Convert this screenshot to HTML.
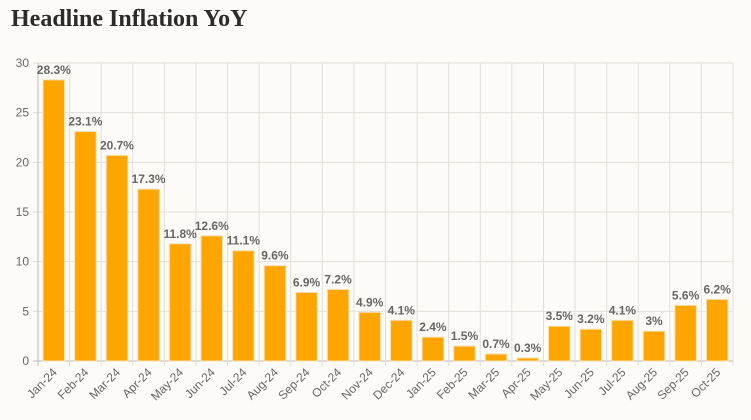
<!DOCTYPE html>
<html><head><meta charset="utf-8"><style>
body{margin:0;width:751px;height:420px;background:#fdfbf7;overflow:hidden;font-family:"Liberation Sans",sans-serif}
h1{position:absolute;left:11px;top:6px;margin:0;font-family:"Liberation Serif",serif;font-size:24px;font-weight:bold;color:#2b2b2b}
svg{position:absolute;left:0;top:0}
</style></head><body>
<h1>Headline Inflation YoY</h1>
<svg width="751" height="420" id="c"></svg>
<script>
const categories=["Jan-24","Feb-24","Mar-24","Apr-24","May-24","Jun-24","Jul-24","Aug-24","Sep-24","Oct-24","Nov-24","Dec-24","Jan-25","Feb-25","Mar-25","Apr-25","May-25","Jun-25","Jul-25","Aug-25","Sep-25","Oct-25"];
const values=[28.3,23.1,20.7,17.3,11.8,12.6,11.1,9.6,6.9,7.2,4.9,4.1,2.4,1.5,0.7,0.3,3.5,3.2,4.1,3,5.6,6.2];
const yTicks=[0,5,10,15,20,25,30];
const NS="http://www.w3.org/2000/svg";
const svg=document.getElementById('c');
const L=38,R=733,T0=361,T30=63;
const step=(R-L)/categories.length;
const y=v=>T0-(v/30)*(T0-T30);
const x=i=>L+i*step;
function mk(t,a,p){const e=document.createElementNS(NS,t);for(const k in a)e.setAttribute(k,a[k]);(p||svg).appendChild(e);return e;}
yTicks.forEach(t=>{
 const g=mk('line',{x1:L-5,x2:R,y1:y(t),y2:y(t),stroke:t===0?'#bbb':'#e2dfda','stroke-width':1});
 
 
 const tx=mk('text',{x:L-9,y:y(t)+4,'text-anchor':'end','font-size':12,fill:'#666'});
 tx.textContent=t;
 
 
});
for(let i=0;i<=categories.length;i++){
 const g=mk('line',{x1:x(i),x2:x(i),y1:T30,y2:T0+5,stroke:i===0?'#bbb':'#e2dfda','stroke-width':1});
 
 
}
const bw=step*0.68;
categories.forEach((c,i)=>{
 const cx=x(i)+step/2;
 const b=mk('rect',{x:cx-bw/2,y:y(values[i]),width:bw,height:T0-y(values[i]),fill:'#ffa500',stroke:'#f5e0b0','stroke-width':1});
 
 
 const v=mk('text',{x:cx,y:y(values[i])-6,'text-anchor':'middle','font-size':12,'font-weight':'bold',fill:'#666'});
 v.textContent=values[i]+'%';
 
 
 const lx=cx+4,ly=T0+12;
 const t=mk('text',{x:lx,y:ly,'text-anchor':'end','font-size':12,fill:'#666',transform:`rotate(-45 ${lx} ${ly})`});
 t.textContent=c;
 
 
});
</script>
</body></html>
